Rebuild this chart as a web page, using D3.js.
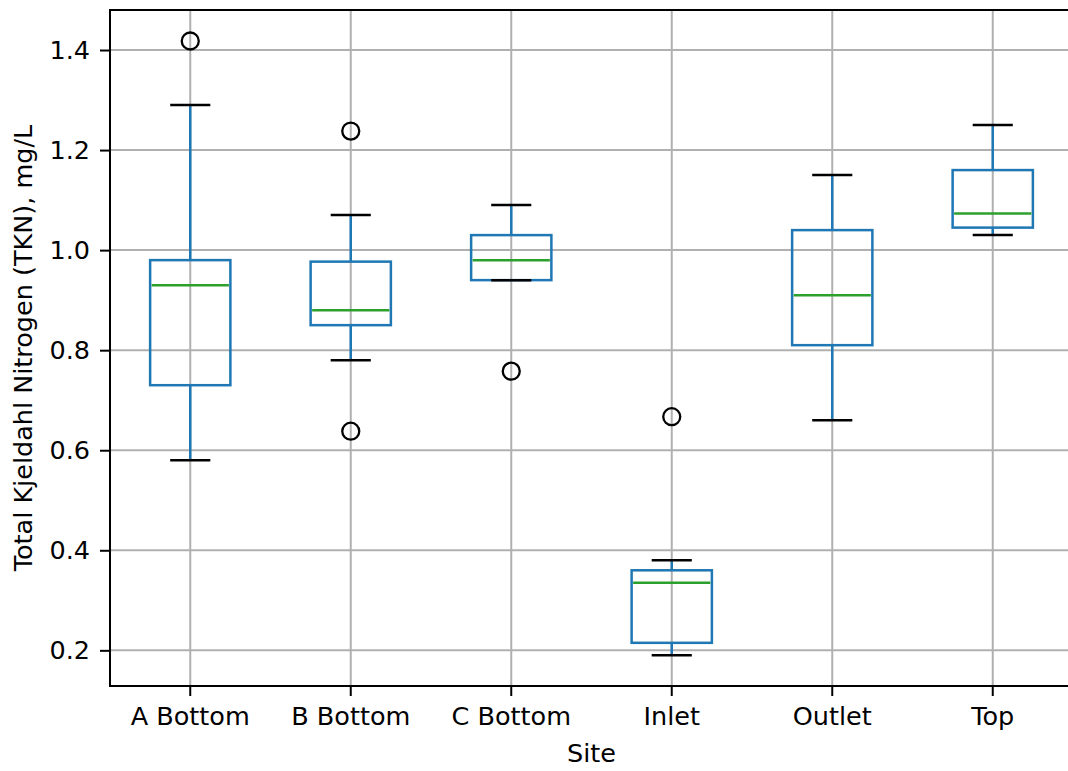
<!DOCTYPE html>
<html>
<head>
<meta charset="utf-8">
<script src="https://cdn.jsdelivr.net/npm/d3@7"></script>
<style>
  html, body { margin: 0; padding: 0; background: #fff; }
  svg { display: block; }
  text { font-family: "DejaVu Sans", sans-serif; fill: #000; }
</style>
</head>
<body>
<svg id="chart" width="1068" height="771"></svg>
<script>
const sites = ["A Bottom", "B Bottom", "C Bottom", "Inlet", "Outlet", "Top"];
const whiskerLow  = [0.58, 0.78, 0.94, 0.19, 0.66, 1.03];
const q1          = [0.73, 0.85, 0.94, 0.215, 0.81, 1.045];
const medians     = [0.93, 0.88, 0.98, 0.335, 0.91, 1.073];
const q3          = [0.98, 0.977, 1.03, 0.36, 1.04, 1.16];
const whiskerHigh = [1.29, 1.07, 1.09, 0.38, 1.15, 1.25];
const outliers    = [[1.418], [1.238, 0.638], [0.758], [0.667], [], []];
const yTicks = [0.2, 0.4, 0.6, 0.8, 1.0, 1.2, 1.4];
const yLabel = "Total Kjeldahl Nitrogen (TKN), mg/L";
const xLabel = "Site";

const mLeft = 110, mRight = 1073, mTop = 10, mBottom = 686;
const svg = d3.select("#chart");

const x = d3.scaleBand().domain(sites).range([mLeft, mRight]).paddingInner(0).paddingOuter(0);
const y = d3.scaleLinear().domain([0.1287, 1.48]).range([mBottom, mTop]);
const bw = x.bandwidth();
const cx = s => x(s) + bw / 2;
const fs = 25.5;

// grid
const grid = svg.append("g");
grid.selectAll("line.h").data(yTicks).join("line")
  .attr("x1", mLeft).attr("x2", mRight)
  .attr("y1", d => y(d)).attr("y2", d => y(d))
  .attr("stroke", "#b0b0b0").attr("stroke-width", 2);
grid.selectAll("line.v").data(sites).join("line")
  .attr("x1", d => cx(d)).attr("x2", d => cx(d))
  .attr("y1", mTop).attr("y2", mBottom)
  .attr("stroke", "#b0b0b0").attr("stroke-width", 2);

// boxes
const data = sites.map((s, i) => ({s, lo: whiskerLow[i], q1: q1[i], med: medians[i], q3: q3[i], hi: whiskerHigh[i], out: outliers[i]}));
const g = svg.append("g");
const boxW = bw * 0.5, capW = bw * 0.25;
data.forEach(d => {
  const c = cx(d.s);
  g.append("line").attr("x1", c).attr("x2", c).attr("y1", y(d.q1)).attr("y2", y(d.lo))
    .attr("stroke", "#1f77b4").attr("stroke-width", 2.5);
  g.append("line").attr("x1", c).attr("x2", c).attr("y1", y(d.q3)).attr("y2", y(d.hi))
    .attr("stroke", "#1f77b4").attr("stroke-width", 2.5);
  g.append("rect").attr("x", c - boxW / 2).attr("width", boxW)
    .attr("y", y(d.q3)).attr("height", y(d.q1) - y(d.q3))
    .attr("fill", "none").attr("stroke", "#1f77b4").attr("stroke-width", 2.5);
  [d.lo, d.hi].forEach(v => {
    g.append("line").attr("x1", c - capW / 2).attr("x2", c + capW / 2)
      .attr("y1", y(v)).attr("y2", y(v)).attr("stroke", "#000").attr("stroke-width", 2.5);
  });
  g.append("line").attr("x1", c - boxW / 2 + 1.5).attr("x2", c + boxW / 2 - 1.5)
    .attr("y1", y(d.med)).attr("y2", y(d.med)).attr("stroke", "#2ca02c").attr("stroke-width", 2.5);
  d.out.forEach(v => {
    g.append("circle").attr("cx", c).attr("cy", y(v)).attr("r", 8.5)
      .attr("fill", "none").attr("stroke", "#000").attr("stroke-width", 2.3);
  });
});

// axes
const xAxis = d3.axisBottom(x).tickSize(10).tickPadding(11);
const yAxis = d3.axisLeft(y).tickValues(yTicks).tickFormat(d3.format(".1f")).tickSize(10).tickPadding(10);
const gx = svg.append("g").attr("transform", `translate(0,${mBottom})`).call(xAxis);
const gy = svg.append("g").attr("transform", `translate(${mLeft},0)`).call(yAxis);
[gx, gy].forEach(a => {
  a.select(".domain").remove();
  a.selectAll(".tick line").attr("stroke", "#000").attr("stroke-width", 2);
  a.selectAll(".tick text").attr("font-size", fs).attr("font-family", "DejaVu Sans").attr("fill", "#000");
});

// spines
svg.append("rect").attr("x", mLeft).attr("y", mTop).attr("width", mRight - mLeft).attr("height", mBottom - mTop)
  .attr("fill", "none").attr("stroke", "#000").attr("stroke-width", 2);

// labels
svg.append("text").attr("x", (mLeft + mRight) / 2).attr("y", 762)
  .attr("text-anchor", "middle").attr("font-size", fs).text(xLabel);
svg.append("text").attr("transform", `translate(32,${(mTop + mBottom) / 2}) rotate(-90)`)
  .attr("text-anchor", "middle").attr("font-size", fs).text(yLabel);
</script>
</body>
</html>
